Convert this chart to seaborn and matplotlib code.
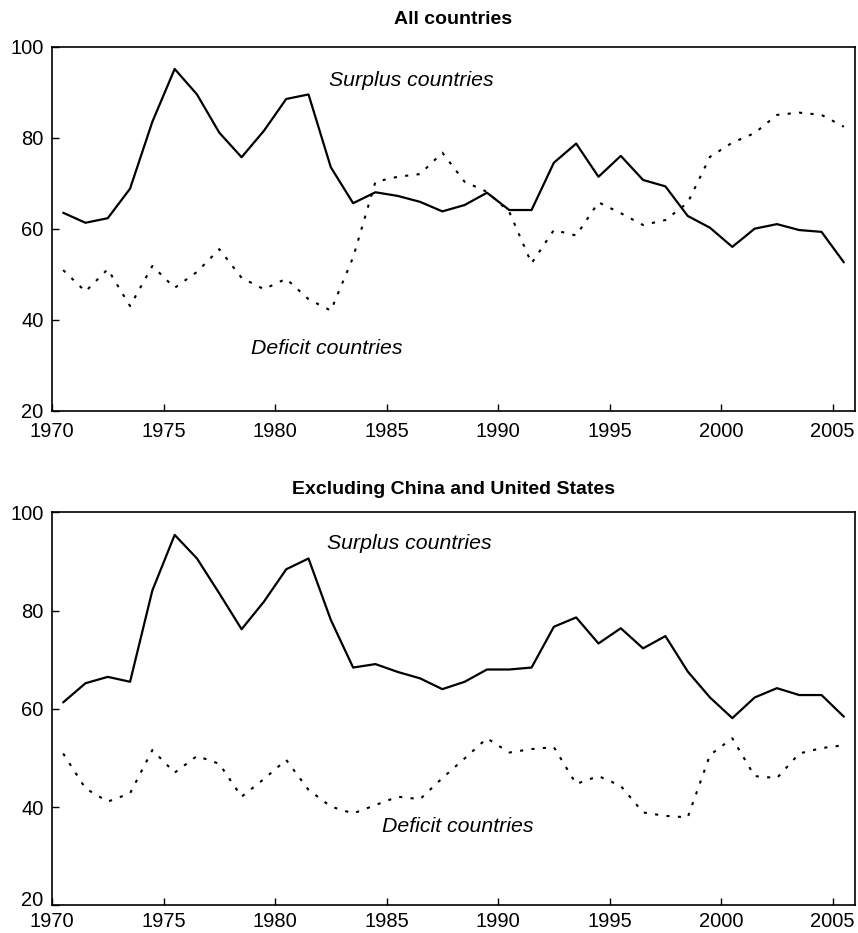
import numpy as np
import pandas as pd
import seaborn as sns
import matplotlib.pyplot as plt
from matplotlib.transforms import ScaledTranslation

# values (mid-year points)
years = np.arange(1970.5, 2006, 1.0)

all_surplus = [63.5, 61.3, 62.3, 68.8, 83.5, 95.1, 89.5, 81.1, 75.7, 81.5,
               88.5, 89.5, 73.5, 65.6, 68.0, 67.2, 65.9, 63.8, 65.2, 67.9,
               64.1, 64.1, 74.5, 78.7, 71.4, 76.0, 70.7, 69.3, 62.8, 60.2,
               56.0, 60.0, 61.0, 59.7, 59.3, 52.6]
all_deficit = [50.9, 46.2, 51.1, 43.0, 51.8, 47.0, 50.5, 55.5, 49.2, 46.7,
               49.0, 44.5, 42.0, 53.7, 70.3, 71.4, 72.0, 76.7, 70.3, 68.1,
               63.7, 52.4, 59.7, 58.5, 65.8, 63.4, 60.8, 61.9, 65.7, 75.8,
               78.9, 81.0, 85.0, 85.5, 85.0, 82.4]

excl_surplus = [61.3, 65.2, 66.5, 65.5, 84.1, 95.4, 90.6, 83.5, 76.2, 81.8,
                88.4, 90.6, 78.1, 68.4, 69.1, 67.5, 66.2, 64.0, 65.5, 68.0,
                68.0, 68.4, 76.7, 78.6, 73.3, 76.4, 72.3, 74.8, 67.6, 62.3,
                58.1, 62.3, 64.2, 62.8, 62.8, 58.4]
excl_deficit = [50.9, 43.8, 41.1, 42.8, 51.6, 47.0, 50.4, 48.8, 42.1, 45.7,
                49.6, 43.5, 40.1, 38.7, 40.4, 42.1, 41.6, 45.9, 49.9, 54.0,
                51.1, 51.8, 52.2, 44.7, 46.3, 44.3, 38.9, 38.2, 37.9, 50.6,
                54.0, 46.3, 45.9, 50.9, 52.0, 52.6]

panels = [
    ("All countries", all_surplus, all_deficit, (1986.1, 92.5), (1982.3, 33.6)),
    ("Excluding China and United States", excl_surplus, excl_deficit, (1986.0, 93.7), (1988.2, 36.1)),
]

sns.set_theme(style="ticks")
plt.rcParams['font.family'] = ['Liberation Sans', 'DejaVu Sans']
plt.rcParams['text.color'] = 'black'

fig = plt.figure(figsize=(8.58, 9.33), dpi=100)
ax_top = fig.add_axes([0.0606, 0.5598, 0.9359, 0.3902])
ax_bot = fig.add_axes([0.0606, 0.0297, 0.9359, 0.4212])

for ax, (title, surplus, deficit, s_pos, d_pos) in zip([ax_top, ax_bot], panels):
    df = pd.DataFrame({"year": years, "surplus": surplus, "deficit": deficit})
    sns.lineplot(data=df, x="year", y="surplus", ax=ax, color="black", linewidth=1.6)
    sns.lineplot(data=df, x="year", y="deficit", ax=ax, color="black", linewidth=1.5,
                 linestyle=(0, (1.5, 4)))
    ax.set_xlim(1970, 2006)
    ax.set_ylim(20, 100)
    ax.set_xticks([1970, 1975, 1980, 1985, 1990, 1995, 2000, 2005])
    ax.set_yticks([20, 40, 60, 80, 100])
    ax.set_xlabel("")
    ax.set_ylabel("")
    ax.tick_params(direction="in", length=5, width=1, labelsize=14.5, colors="black")
    ax.tick_params(axis="y", pad=6)
    for sp in ax.spines.values():
        sp.set_visible(True)
        sp.set_linewidth(1.2)
        sp.set_color("black")
    ax.text(s_pos[0], s_pos[1], "Surplus countries", fontsize=15.3, style="italic",
            ha="center", va="center", color="black")
    ax.text(d_pos[0], d_pos[1], "Deficit countries", fontsize=15.3, style="italic",
            ha="center", va="center", color="black")

ax_top.set_title("All countries", fontsize=14, fontweight="bold", pad=16, color="black")
ax_bot.set_title("Excluding China and United States", fontsize=14, fontweight="bold",
                 pad=13, color="black")
ax_top.tick_params(axis="x", pad=8)
ax_bot.tick_params(axis="x", pad=5)

# the bottom "20" sits a little higher in the reference, clear of "1970"
fig.canvas.draw()
lab20 = ax_bot.get_yticklabels()[0]
lab20.set_transform(lab20.get_transform() + ScaledTranslation(0, 5 / 72, fig.dpi_scale_trans))

fig.savefig("out.png", dpi=100)
